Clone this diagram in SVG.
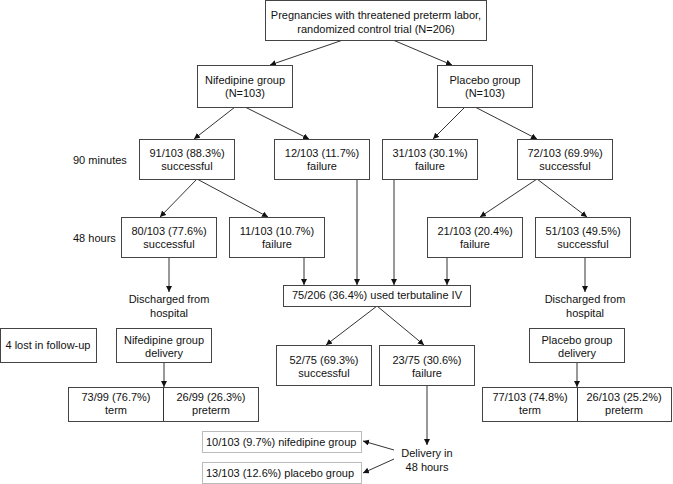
<svg xmlns="http://www.w3.org/2000/svg" width="673" height="484" viewBox="0 0 673 484">
<defs>
<marker id="ah" markerUnits="userSpaceOnUse" markerWidth="8" markerHeight="8" refX="6" refY="3" orient="auto">
<path d="M0,0 L6,3 L0,6 Z" fill="#111"/>
</marker>
<style>
rect.b{fill:#fff;stroke:#444;stroke-width:1}
rect.d{fill:#fff;stroke:#777;stroke-width:1;stroke-dasharray:1,1}
line.c{stroke:#333;stroke-width:1}
text{font-family:"Liberation Sans",Arial,sans-serif;font-size:11px;fill:#111}
.m{text-anchor:middle}
</style>
</defs>
<g id="connectors">
<line class="c" x1="343" y1="40" x2="270" y2="65" marker-end="url(#ah)"/>
<line class="c" x1="393" y1="40" x2="452" y2="65" marker-end="url(#ah)"/>
<line class="c" x1="235" y1="107" x2="194" y2="139" marker-end="url(#ah)"/>
<line class="c" x1="245" y1="107" x2="309" y2="139" marker-end="url(#ah)"/>
<line class="c" x1="465" y1="107" x2="433" y2="139" marker-end="url(#ah)"/>
<line class="c" x1="475" y1="107" x2="537" y2="139" marker-end="url(#ah)"/>
<line class="c" x1="197" y1="179" x2="160" y2="217" marker-end="url(#ah)"/>
<line class="c" x1="197" y1="179" x2="268" y2="217" marker-end="url(#ah)"/>
<line class="c" x1="537" y1="179" x2="480" y2="217" marker-end="url(#ah)"/>
<line class="c" x1="537" y1="179" x2="587" y2="217" marker-end="url(#ah)"/>
<line class="c" x1="169" y1="257" x2="169" y2="292" marker-end="url(#ah)"/>
<line class="c" x1="585" y1="257" x2="585" y2="292" marker-end="url(#ah)"/>
<line class="c" x1="304" y1="257" x2="304" y2="285" marker-end="url(#ah)"/>
<line class="c" x1="357" y1="179" x2="357" y2="285" marker-end="url(#ah)"/>
<line class="c" x1="394" y1="179" x2="394" y2="285" marker-end="url(#ah)"/>
<line class="c" x1="447" y1="257" x2="447" y2="285" marker-end="url(#ah)"/>
<line class="c" x1="377" y1="306" x2="326" y2="345" marker-end="url(#ah)"/>
<line class="c" x1="377" y1="306" x2="424" y2="345" marker-end="url(#ah)"/>
<line class="c" x1="427" y1="385" x2="427" y2="445" marker-end="url(#ah)"/>
<line class="c" x1="394" y1="450" x2="363" y2="441" marker-end="url(#ah)"/>
<line class="c" x1="394" y1="459" x2="363" y2="473" marker-end="url(#ah)"/>
<line class="c" x1="164" y1="362" x2="164" y2="387" marker-end="url(#ah)"/>
<line class="c" x1="577" y1="362" x2="577" y2="387" marker-end="url(#ah)"/>
</g>
<g id="n_top"><rect class="b" x="265.5" y="0.5" width="221" height="40"/>
<text class="m" x="376" y="19">Pregnancies with threatened preterm labor,</text>
<text class="m" x="376" y="33">randomized control trial (N=206)</text></g>
<g id="n_nif"><rect class="b" x="197.5" y="65.5" width="95" height="42"/>
<text class="m" x="245" y="84">Nifedipine group</text><text class="m" x="245" y="97">(N=103)</text></g>
<g id="n_pla"><rect class="b" x="437.5" y="65.5" width="95" height="42"/>
<text class="m" x="485" y="84">Placebo group</text><text class="m" x="485" y="97">(N=103)</text></g>
<g id="lbl_90"><text x="73" y="164">90 minutes</text></g>
<g id="lbl_48"><text x="73" y="242">48 hours</text></g>
<g id="n_91"><rect class="b" x="139.5" y="139.5" width="95" height="40"/>
<text class="m" x="187" y="157">91/103 (88.3%)</text><text class="m" x="187" y="170">successful</text></g>
<g id="n_12"><rect class="b" x="274.5" y="139.5" width="95" height="40"/>
<text class="m" x="322" y="157">12/103 (11.7%)</text><text class="m" x="322" y="170">failure</text></g>
<g id="n_31"><rect class="b" x="382.5" y="139.5" width="95" height="40"/>
<text class="m" x="430" y="157">31/103 (30.1%)</text><text class="m" x="430" y="170">failure</text></g>
<g id="n_72"><rect class="b" x="517.5" y="139.5" width="95" height="40"/>
<text class="m" x="565" y="157">72/103 (69.9%)</text><text class="m" x="565" y="170">successful</text></g>
<g id="n_80"><rect class="b" x="121.5" y="217.5" width="95" height="40"/>
<text class="m" x="169" y="235">80/103 (77.6%)</text><text class="m" x="169" y="248">successful</text></g>
<g id="n_11"><rect class="b" x="229.5" y="217.5" width="95" height="40"/>
<text class="m" x="277" y="235">11/103 (10.7%)</text><text class="m" x="277" y="248">failure</text></g>
<g id="n_21"><rect class="b" x="427.5" y="217.5" width="95" height="40"/>
<text class="m" x="475" y="235">21/103 (20.4%)</text><text class="m" x="475" y="248">failure</text></g>
<g id="n_51"><rect class="b" x="535.5" y="217.5" width="95" height="40"/>
<text class="m" x="583" y="235">51/103 (49.5%)</text><text class="m" x="583" y="248">successful</text></g>
<g id="n_dis_l"><text class="m" x="169" y="303">Discharged from</text><text class="m" x="169" y="317">hospital</text></g>
<g id="n_dis_r"><text class="m" x="585" y="303">Discharged from</text><text class="m" x="585" y="317">hospital</text></g>
<g id="n_75"><rect class="b" x="283.5" y="285.5" width="187" height="21"/>
<text class="m" x="377" y="299">75/206 (36.4%) used terbutaline IV</text></g>
<g id="n_lost"><rect class="b" x="0.5" y="328.5" width="96" height="34"/>
<text class="m" x="48" y="349">4 lost in follow-up</text></g>
<g id="n_nifdel"><rect class="b" x="116.5" y="328.5" width="95" height="34"/>
<text class="m" x="164" y="344">Nifedipine group</text><text class="m" x="164" y="357">delivery</text></g>
<g id="n_pladel"><rect class="b" x="529.5" y="328.5" width="95" height="34"/>
<text class="m" x="577" y="344">Placebo group</text><text class="m" x="577" y="357">delivery</text></g>
<g id="n_52"><rect class="b" x="276.5" y="345.5" width="95" height="40"/>
<text class="m" x="324" y="364">52/75 (69.3%)</text><text class="m" x="324" y="377">successful</text></g>
<g id="n_23"><rect class="b" x="379.5" y="345.5" width="95" height="40"/>
<text class="m" x="427" y="364">23/75 (30.6%)</text><text class="m" x="427" y="377">failure</text></g>
<g id="n_nifout"><rect class="b" x="68.5" y="387.5" width="190" height="34"/>
<line class="c" x1="163.5" y1="387" x2="163.5" y2="421"/>
<text class="m" x="116" y="401">73/99 (76.7%)</text><text class="m" x="116" y="414">term</text>
<text class="m" x="211" y="401">26/99 (26.3%)</text><text class="m" x="211" y="414">preterm</text></g>
<g id="n_plaout"><rect class="b" x="482.5" y="387.5" width="189" height="34"/>
<line class="c" x1="577.5" y1="387" x2="577.5" y2="421"/>
<text class="m" x="530" y="401">77/103 (74.8%)</text><text class="m" x="530" y="414">term</text>
<text class="m" x="624" y="401">26/103 (25.2%)</text><text class="m" x="624" y="414">preterm</text></g>
<g id="n_del48"><text class="m" x="427" y="457">Delivery in</text><text class="m" x="427" y="471">48 hours</text></g>
<g id="n_10"><rect class="d" x="202.5" y="431.5" width="159" height="21"/>
<text x="206" y="446">10/103 (9.7%) nifedipine group</text></g>
<g id="n_13"><rect class="d" x="202.5" y="462.5" width="159" height="21"/>
<text x="206" y="477">13/103 (12.6%) placebo group</text></g>
</svg>
